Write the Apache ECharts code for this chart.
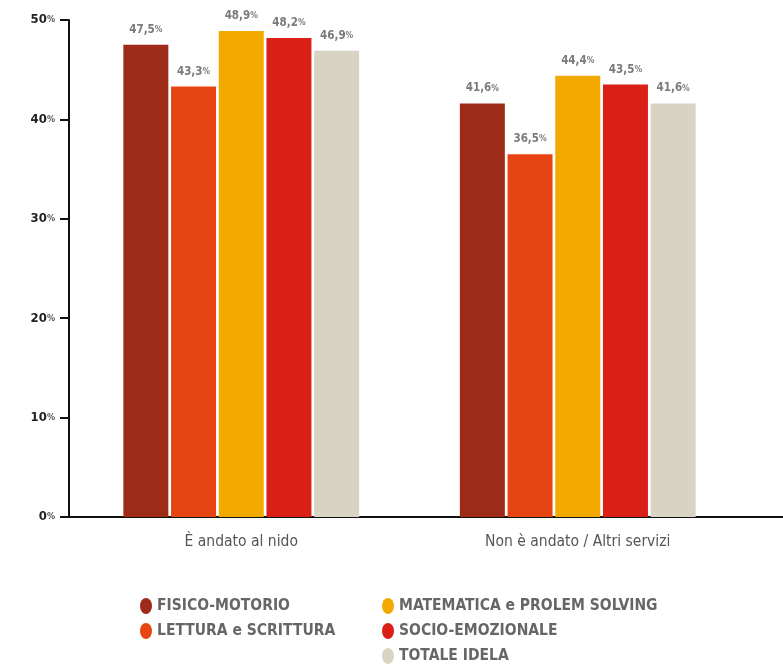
<!DOCTYPE html>
<html><head><meta charset="utf-8">
<script src="https://cdn.jsdelivr.net/npm/echarts@6/dist/echarts.min.js"></script>
<style>html,body{margin:0;padding:0;background:#fff}#c{width:783px;height:664px}</style>
</head><body><div id="c"></div>
<script>
const categories = ['È andato al nido', 'Non è andato / Altri servizi'];
const seriesNames = ['FISICO-MOTORIO', 'LETTURA e SCRITTURA', 'MATEMATICA e PROLEM SOLVING', 'SOCIO-EMOZIONALE', 'TOTALE IDELA'];
const fisicoMotorio = [47.5, 41.6];
const letturaScrittura = [43.3, 36.5];
const matematica = [48.9, 44.4];
const socioEmozionale = [48.2, 43.5];
const totaleIdela = [46.9, 41.6];
const yTicks = [0, 10, 20, 30, 40, 50];

const colors = ['#9E2B17', '#E64512', '#F2A900', '#D91F16', '#D9D3C3'];
const values = [fisicoMotorio, letturaScrittura, matematica, socioEmozionale, totaleIdela];
const FONT = '"Liberation Sans Narrow", "DejaVu Sans Condensed", "Liberation Sans", sans-serif';

const chart = echarts.init(document.getElementById('c'));
const series = seriesNames.map((n, i) => ({
  name: n, type: 'bar', data: values[i], barWidth: 45, barGap: '6%',
  itemStyle: { color: colors[i] },
  label: {
    show: true, position: 'top', distance: 9,
    formatter: p => '{v|' + p.value.toFixed(1).replace('.', ',') + '}{p|%}',
    rich: {
      v: { fontFamily: FONT, fontWeight: 'bold', fontSize: 11.5, color: '#7a7a7a' },
      p: { fontFamily: FONT, fontWeight: 'bold', fontSize: 8.5, color: '#7a7a7a' }
    }
  }
}));
const ellipse = 'path://M0,8a6,8 0 1,0 12,0a6,8 0 1,0 -12,0';
const legendText = { fontFamily: FONT, fontWeight: 'bold', fontSize: 15.5, color: '#666' };
chart.setOption({
  animation: false,
  color: colors,
  grid: { left: 73, right: 37, top: 20, bottom: 147, containLabel: false },
  legend: [
    { data: seriesNames.slice(0, 2), orient: 'vertical', left: 135, top: 593, height: 70, itemWidth: 12, itemHeight: 16, itemGap: 9, icon: ellipse, textStyle: legendText, selectedMode: false },
    { data: seriesNames.slice(2), orient: 'vertical', left: 377, top: 593, height: 70, itemWidth: 12, itemHeight: 16, itemGap: 9, icon: ellipse, textStyle: legendText, selectedMode: false }
  ],
  xAxis: {
    type: 'category', data: categories,
    axisLine: { show: true, lineStyle: { color: '#111', width: 2 } },
    axisTick: { show: false },
    axisLabel: { margin: 17, fontFamily: FONT, fontSize: 15.5, color: '#555' }
  },
  yAxis: {
    type: 'value', min: yTicks[0], max: yTicks[yTicks.length - 1], interval: 10, offset: 4,
    splitLine: { show: false },
    axisLine: { show: true, lineStyle: { color: '#111', width: 2 } },
    axisTick: { show: true, length: 9, lineStyle: { color: '#111', width: 2 } },
    axisLabel: {
      margin: 14,
      formatter: v => '{v|' + v + '}{p|%}',
      rich: {
        v: { fontFamily: FONT, fontWeight: 'bold', fontSize: 13, color: '#222' },
        p: { fontFamily: FONT, fontWeight: 'bold', fontSize: 9, color: '#555' }
      }
    }
  },
  graphic: [{ type: 'line', shape: { x1: 69, y1: 517, x2: 783, y2: 517 }, style: { stroke: '#111', lineWidth: 2 } }],
  series: series
});
</script></body></html>
